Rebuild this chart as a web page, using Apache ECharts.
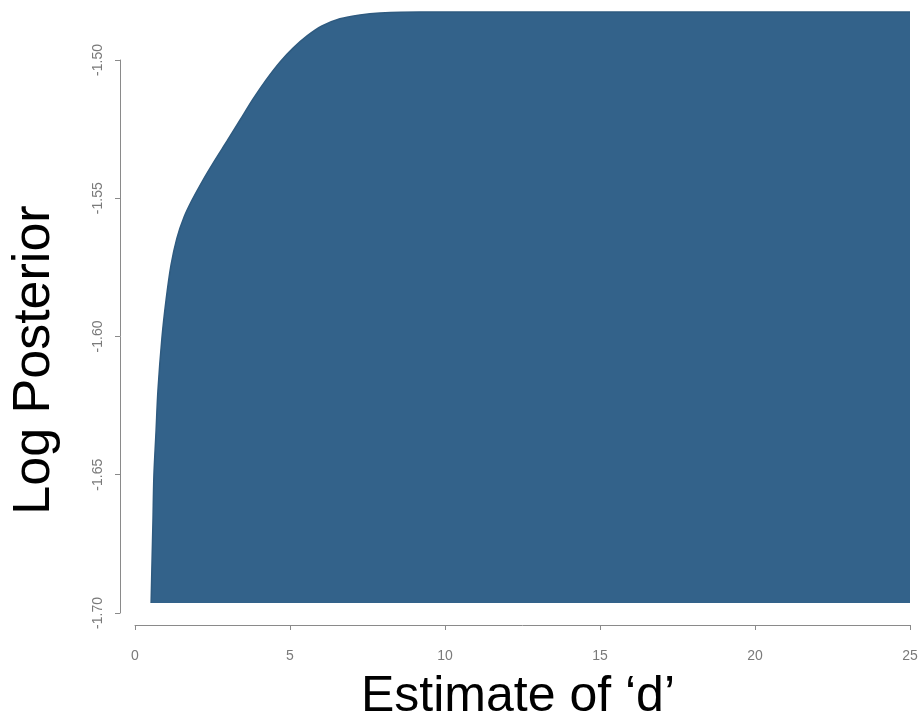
<!DOCTYPE html>
<html>
<head>
<meta charset="utf-8">
<style>
  html, body { margin: 0; padding: 0; background: #ffffff; }
  #chart { width: 923px; height: 724px; }
</style>
<script src="https://cdn.jsdelivr.net/npm/echarts@6/dist/echarts.min.js"></script>
</head>
<body>
<div id="chart"></div>
<script>
// Estimate of d versus the log posterior (profile curve)
const dValues = [0.52, 0.55, 0.58, 0.61, 0.68, 0.74, 0.87, 1.00, 1.16, 1.35, 1.58, 1.84, 2.19, 2.58, 2.97, 3.39, 3.81, 4.23, 4.68, 5.10, 5.55, 6.03, 6.61, 7.26, 7.90, 9.19, 15, 20, 25];
const logPosterior = [-1.6964, -1.6812, -1.6667, -1.6504, -1.6341, -1.6196, -1.6004, -1.5870, -1.5743, -1.5645, -1.5569, -1.5507, -1.5435, -1.5362, -1.5293, -1.5217, -1.5141, -1.5072, -1.5007, -1.4957, -1.4913, -1.4877, -1.4851, -1.4837, -1.4830, -1.4826, -1.4826, -1.4826, -1.4826];
const areaBase = -1.6964;

const xTicks = [0, 5, 10, 15, 20, 25];
const yTicks = [-1.70, -1.65, -1.60, -1.55, -1.50];

const xTitle = 'Estimate of \u2018d\u2019';
const yTitle = 'Log Posterior';

const fill = '#33628a';
const axisGrey = '#8a8a8a';
const font = '"Liberation Sans", Arial, Helvetica, sans-serif';

const chart = echarts.init(document.getElementById('chart'), null, { renderer: 'canvas' });

chart.setOption({
  animation: false,
  backgroundColor: '#ffffff',
  grid: { left: 135, right: 13, top: 60, bottom: 111, containLabel: false },
  xAxis: {
    type: 'value',
    min: xTicks[0],
    max: xTicks[xTicks.length - 1],
    interval: 5,
    offset: 12,
    splitLine: { show: false },
    axisLine: { show: true, onZero: false, lineStyle: { color: axisGrey, width: 1 } },
    axisTick: { show: true, inside: false, length: 5, lineStyle: { color: axisGrey } },
    axisLabel: { show: true, margin: 24, fontSize: 14, color: '#7a7a7a', fontFamily: font }
  },
  yAxis: {
    type: 'value',
    min: yTicks[0],
    max: yTicks[yTicks.length - 1],
    interval: 0.05,
    offset: 15,
    splitLine: { show: false },
    axisLine: { show: true, onZero: false, lineStyle: { color: axisGrey, width: 1 } },
    axisTick: { show: true, inside: false, length: 5, lineStyle: { color: axisGrey } },
    axisLabel: {
      show: true, rotate: 90, margin: 15, fontSize: 14, color: '#7a7a7a', fontFamily: font,
      formatter: v => v.toFixed(2)
    }
  },
  series: [{
    type: 'line',
    data: dValues.map((d, i) => [d, logPosterior[i]]),
    clip: false,
    smooth: 0.3,
    showSymbol: false,
    symbol: 'none',
    lineStyle: { color: '#2f5b80', width: 1.5 },
    areaStyle: { color: fill, opacity: 1, origin: areaBase }
  }],
  graphic: [
    {
      type: 'text',
      left: 517 - 156,
      top: 672,
      style: { text: xTitle, font: '50px ' + font, fill: '#000000' }
    },
    {
      type: 'text',
      x: 9,
      y: 360,
      rotation: Math.PI / 2,
      style: { text: yTitle, font: '52px ' + font, fill: '#000000', align: 'center', verticalAlign: 'top' }
    }
  ]
});
</script>
</body>
</html>
